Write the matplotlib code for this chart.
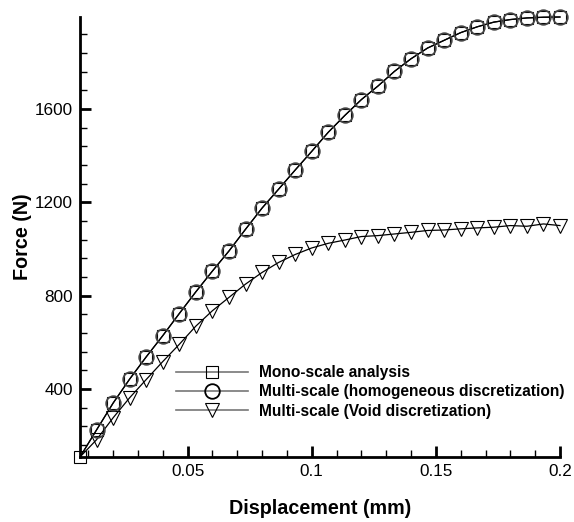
import numpy as np
import matplotlib
matplotlib.use("Agg")
import matplotlib.pyplot as plt
from matplotlib.ticker import MultipleLocator, FixedLocator

plt.rcParams['font.family'] = ['Liberation Sans', 'DejaVu Sans']

# Displacement (mm)
disp = [0.00667, 0.01333, 0.02, 0.02667, 0.03333, 0.04, 0.04667, 0.05333, 0.06, 0.06667,
        0.07333, 0.08, 0.08667, 0.09333, 0.1, 0.10667, 0.11333, 0.12, 0.12667, 0.13333,
        0.14, 0.14667, 0.15333, 0.16, 0.16667, 0.17333, 0.18, 0.18667, 0.19333, 0.2]

mono = [108, 224, 339, 442, 537, 628, 723, 816, 905, 991,
        1084, 1175, 1256, 1338, 1418, 1500, 1572, 1640, 1698, 1761,
        1815, 1861, 1894, 1927, 1952, 1972, 1983, 1990, 1993, 1994]

multi_homo = [108, 224, 339, 442, 537, 628, 723, 816, 905, 991,
              1084, 1175, 1256, 1338, 1418, 1500, 1572, 1640, 1698, 1761,
              1815, 1861, 1894, 1927, 1952, 1972, 1983, 1990, 1993, 1994]

multi_void = [108, 182, 276, 362, 440, 517, 591, 669, 735, 792,
              849, 899, 942, 976, 1004, 1024, 1038, 1053, 1057, 1064,
              1071, 1079, 1081, 1086, 1090, 1093, 1100, 1097, 1107, 1100]

labels = ["Mono-scale analysis",
          "Multi-scale (homogeneous discretization)",
          "Multi-scale (Void discretization)"]

W, H = 574, 522
fig = plt.figure(figsize=(W / 100, H / 100), dpi=100)
ax = fig.add_axes([80 / W, (H - 457) / H, (560 - 80) / W, (457 - 17) / H])

lw = 0.9
l1, = ax.plot(disp, mono, color='black', lw=lw, marker='s', ms=8.5, mfc='none',
              mec='black', mew=0.8, clip_on=False, zorder=3)
l2, = ax.plot(disp, multi_homo, color='black', lw=lw, marker='o', ms=10.5, mfc='none',
              mec='#444444', mew=1.3, clip_on=False, zorder=4,
              markevery=slice(1, None))
l3, = ax.plot(disp, multi_void, color='black', lw=lw, marker='v', ms=10, mfc='none',
              mec='black', mew=0.8, clip_on=False, zorder=3,
              markevery=slice(1, None))

ax.set_xlim(disp[0], disp[-1])
ax.set_ylim(min(mono), max(mono))

for s in ['top', 'right']:
    ax.spines[s].set_visible(False)
for s in ['left', 'bottom']:
    ax.spines[s].set_linewidth(2)

ax.xaxis.set_major_locator(FixedLocator([0.05, 0.1, 0.15, 0.2]))
ax.xaxis.set_minor_locator(MultipleLocator(0.01))
ax.yaxis.set_major_locator(FixedLocator([400, 800, 1200, 1600]))
ax.yaxis.set_minor_locator(MultipleLocator(80))
ax.set_xticklabels(['0.05', '0.1', '0.15', '0.2'])
ax.set_yticklabels(['400', '800', '1200', '1600'])

ax.tick_params(which='major', direction='in', length=8, width=2, labelsize=12.3, pad=5)
ax.tick_params(which='minor', direction='in', length=5, width=1)

ax.set_xlabel('Displacement (mm)', fontsize=14.2, fontweight='bold')
ax.set_ylabel('Force (N)', fontsize=14.2, fontweight='bold')
ax.xaxis.set_label_coords((320 - 80) / (560 - 80), -(499 - 457) / (457 - 17))
ax.yaxis.set_label_coords(-(80 - 32) / (560 - 80), (457 - 237) / (457 - 17))

leg = ax.legend([l1, l2, l3], labels, loc='upper left',
                bbox_to_anchor=((176 - 80) / (560 - 80), (457 - 365) / (457 - 17)),
                frameon=False, handlelength=4.6, handletextpad=0.75,
                labelspacing=0.28, borderpad=0, borderaxespad=0,
                prop={'weight': 'bold', 'size': 11.2})
for h in leg.get_lines():
    h.set_color('#777777')
    h.set_markeredgecolor('black')
    h.set_linewidth(1.2)

fig.savefig('out.png', dpi=100)
